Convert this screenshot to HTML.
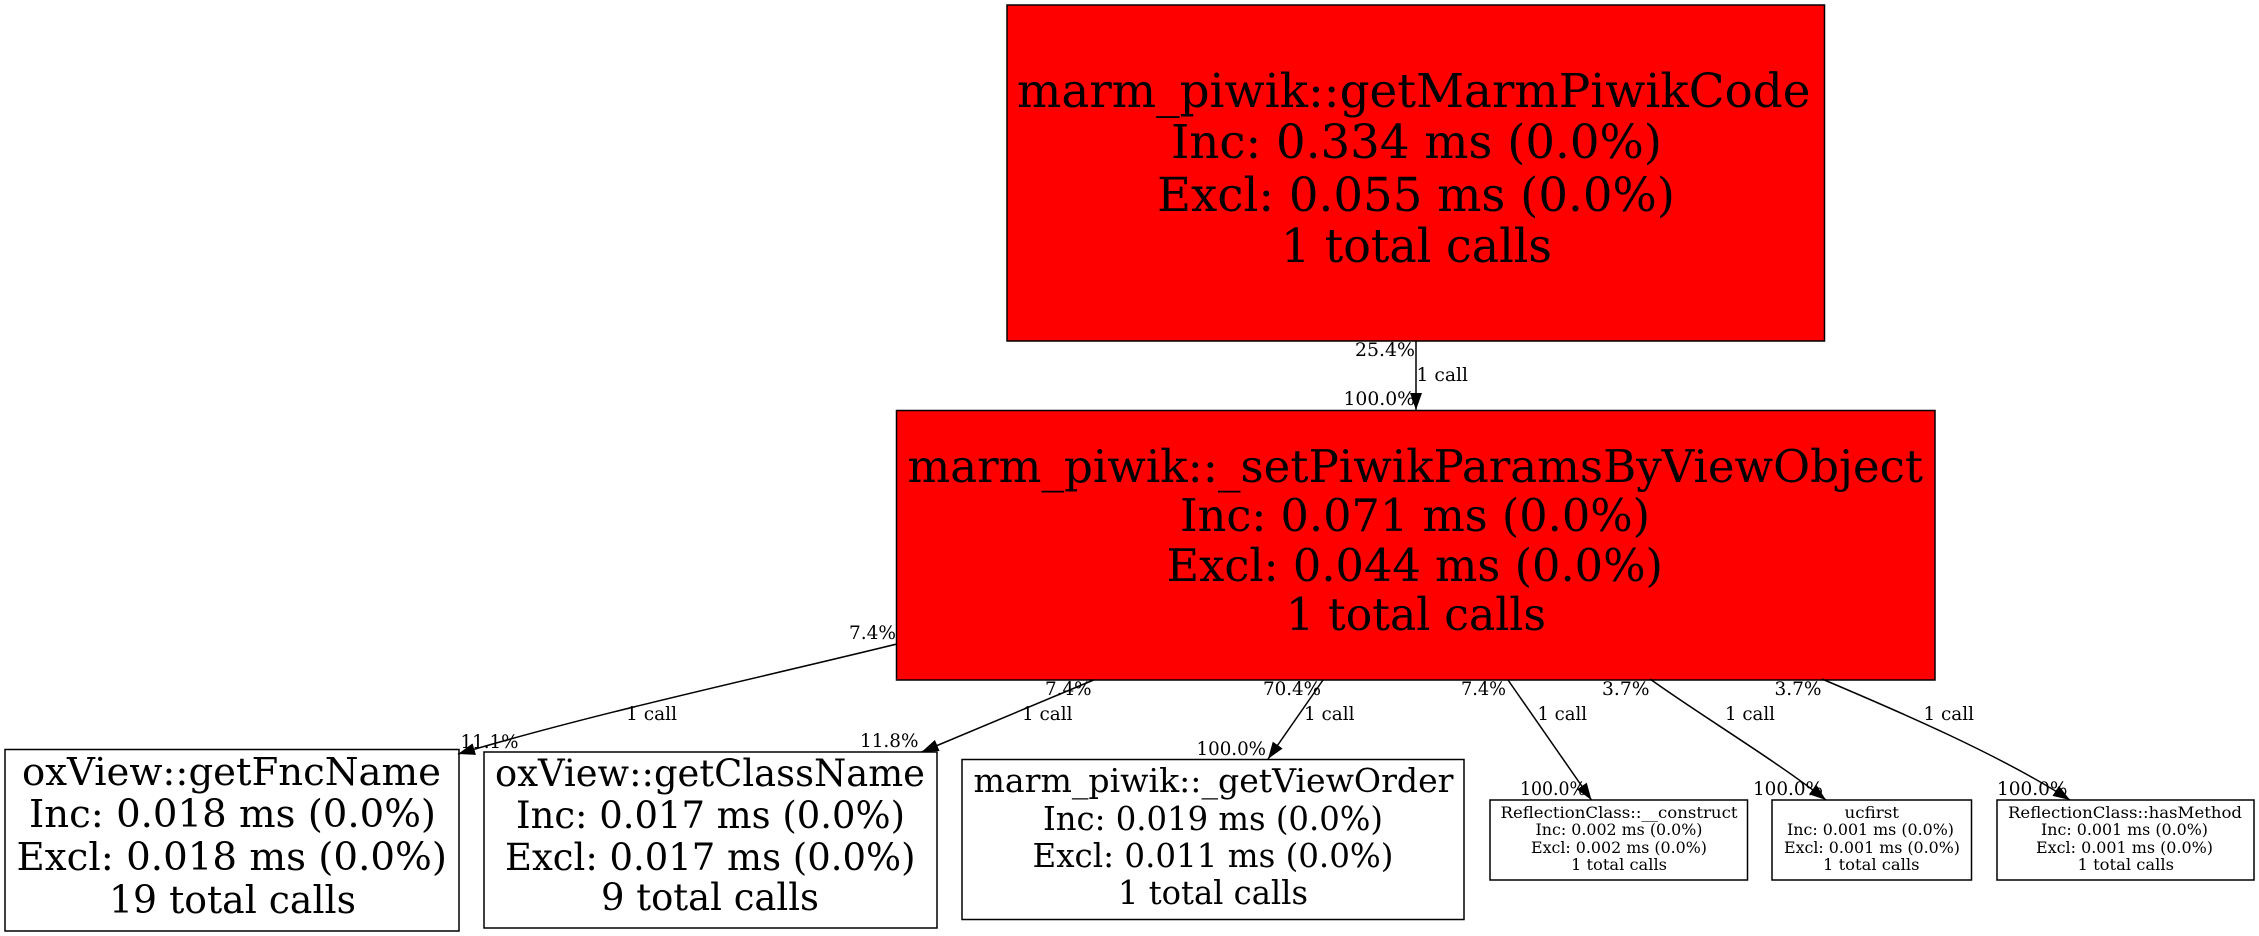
<!DOCTYPE html>
<html>
<head>
<meta charset="utf-8">
<style>
html,body{margin:0;padding:0;background:#fff;width:2259px;height:936px;overflow:hidden}
svg{display:block}
text{font-family:"DejaVu Serif","Liberation Serif",serif;fill:#000}
rect{stroke:#000;stroke-width:1.5}
.e{fill:none;stroke:#000;stroke-width:1.5}
.s1{font-size:46.6px}.s2{font-size:44.6px}.s3{font-size:38.6px}.s4{font-size:37px}.s5{font-size:32.3px}.s6{font-size:15.9px}.l{font-size:18.4px}
</style>
</head>
<body>
<svg xmlns="http://www.w3.org/2000/svg" width="2259" height="936" viewBox="0 0 2259 936">
<defs>
<marker id="a" markerUnits="userSpaceOnUse" markerWidth="18" markerHeight="14" refX="17" refY="7" orient="auto"><path d="M0 1 L17 7 L0 13 Z" fill="#000"/></marker>
</defs>
<rect width="2259" height="936" fill="#fff" style="stroke:none"/>

<rect x="1007" y="5" width="817.5" height="336" fill="#f00"/>
<text class="s1" x="1017" y="107" textLength="793.5" lengthAdjust="spacingAndGlyphs">marm_piwik::getMarmPiwikCode</text>
<text class="s1" x="1171" y="158" textLength="491" lengthAdjust="spacingAndGlyphs">Inc: 0.334 ms (0.0%)</text>
<text class="s1" x="1157" y="211" textLength="518" lengthAdjust="spacingAndGlyphs">Excl: 0.055 ms (0.0%)</text>
<text class="s1" x="1281" y="262" textLength="271" lengthAdjust="spacingAndGlyphs">1 total calls</text>

<rect x="896.5" y="410.5" width="1038.5" height="269.5" fill="#f00"/>
<text class="s2" x="907.5" y="482" textLength="1015.5" lengthAdjust="spacingAndGlyphs">marm_piwik::_setPiwikParamsByViewObject</text>
<text class="s2" x="1180" y="531" textLength="470" lengthAdjust="spacingAndGlyphs">Inc: 0.071 ms (0.0%)</text>
<text class="s2" x="1166.5" y="581" textLength="496.5" lengthAdjust="spacingAndGlyphs">Excl: 0.044 ms (0.0%)</text>
<text class="s2" x="1286" y="630" textLength="260" lengthAdjust="spacingAndGlyphs">1 total calls</text>

<rect x="5" y="749.5" width="454" height="181.5" fill="#fff"/>
<text class="s3" x="22" y="785" textLength="419" lengthAdjust="spacingAndGlyphs">oxView::getFncName</text>
<text class="s3" x="29" y="827" textLength="407" lengthAdjust="spacingAndGlyphs">Inc: 0.018 ms (0.0%)</text>
<text class="s3" x="16.5" y="870" textLength="430.5" lengthAdjust="spacingAndGlyphs">Excl: 0.018 ms (0.0%)</text>
<text class="s3" x="109" y="913" textLength="247" lengthAdjust="spacingAndGlyphs">19 total calls</text>

<rect x="484" y="752" width="453" height="176" fill="#fff"/>
<text class="s4" x="495" y="786" textLength="430" lengthAdjust="spacingAndGlyphs">oxView::getClassName</text>
<text class="s4" x="516" y="828" textLength="389" lengthAdjust="spacingAndGlyphs">Inc: 0.017 ms (0.0%)</text>
<text class="s4" x="505" y="870" textLength="410.5" lengthAdjust="spacingAndGlyphs">Excl: 0.017 ms (0.0%)</text>
<text class="s4" x="601" y="910" textLength="218" lengthAdjust="spacingAndGlyphs">9 total calls</text>

<rect x="962" y="759.5" width="502" height="160" fill="#fff"/>
<text class="s5" x="973.5" y="792" textLength="480" lengthAdjust="spacingAndGlyphs">marm_piwik::_getViewOrder</text>
<text class="s5" x="1043" y="830" textLength="340" lengthAdjust="spacingAndGlyphs">Inc: 0.019 ms (0.0%)</text>
<text class="s5" x="1032.5" y="867" textLength="361" lengthAdjust="spacingAndGlyphs">Excl: 0.011 ms (0.0%)</text>
<text class="s5" x="1118" y="904" textLength="190" lengthAdjust="spacingAndGlyphs">1 total calls</text>

<rect x="1490" y="800" width="257.5" height="80" fill="#fff"/>
<text class="s6" x="1500.5" y="818" textLength="237" lengthAdjust="spacingAndGlyphs">ReflectionClass::__construct</text>
<text class="s6" x="1535.5" y="835" textLength="167" lengthAdjust="spacingAndGlyphs">Inc: 0.002 ms (0.0%)</text>
<text class="s6" x="1531" y="853" textLength="176" lengthAdjust="spacingAndGlyphs">Excl: 0.002 ms (0.0%)</text>
<text class="s6" x="1571" y="870" textLength="96" lengthAdjust="spacingAndGlyphs">1 total calls</text>

<rect x="1772" y="800" width="199.5" height="80" fill="#fff"/>
<text class="s6" x="1844.5" y="818" textLength="54.5" lengthAdjust="spacingAndGlyphs">ucfirst</text>
<text class="s6" x="1787" y="835" textLength="167" lengthAdjust="spacingAndGlyphs">Inc: 0.001 ms (0.0%)</text>
<text class="s6" x="1784" y="853" textLength="176" lengthAdjust="spacingAndGlyphs">Excl: 0.001 ms (0.0%)</text>
<text class="s6" x="1823" y="870" textLength="96.5" lengthAdjust="spacingAndGlyphs">1 total calls</text>

<rect x="1997" y="800" width="257" height="80" fill="#fff"/>
<text class="s6" x="2008" y="818" textLength="234" lengthAdjust="spacingAndGlyphs">ReflectionClass::hasMethod</text>
<text class="s6" x="2041" y="835" textLength="167" lengthAdjust="spacingAndGlyphs">Inc: 0.001 ms (0.0%)</text>
<text class="s6" x="2036" y="853" textLength="177" lengthAdjust="spacingAndGlyphs">Excl: 0.001 ms (0.0%)</text>
<text class="s6" x="2077.5" y="870" textLength="96.5" lengthAdjust="spacingAndGlyphs">1 total calls</text>

<path class="e" d="M1416 341 L1416 410" marker-end="url(#a)"/>
<path class="e" d="M897 644 C750 680 600 712 458 754" marker-end="url(#a)"/>
<path class="e" d="M1093.6 680 L921.6 752" marker-end="url(#a)"/>
<path class="e" d="M1323 680 L1268 759" marker-end="url(#a)"/>
<path class="e" d="M1508 680 L1591.5 800" marker-end="url(#a)"/>
<path class="e" d="M1650 679 C1700 715 1775 760 1826 800" marker-end="url(#a)"/>
<path class="e" d="M1822 679 C1900 712 2000 755 2070 800" marker-end="url(#a)"/>

<text class="l" x="1355" y="356" textLength="60" lengthAdjust="spacingAndGlyphs">25.4%</text>
<text class="l" x="1416.5" y="381" textLength="51.5" lengthAdjust="spacingAndGlyphs">1 call</text>
<text class="l" x="1343.5" y="405" textLength="71.5" lengthAdjust="spacingAndGlyphs">100.0%</text>

<text class="l" x="849" y="639" textLength="47" lengthAdjust="spacingAndGlyphs">7.4%</text>
<text class="l" x="626" y="720" textLength="51" lengthAdjust="spacingAndGlyphs">1 call</text>
<text class="l" x="460.5" y="748" textLength="58" lengthAdjust="spacingAndGlyphs">11.1%</text>

<text class="l" x="1045" y="695" textLength="46.5" lengthAdjust="spacingAndGlyphs">7.4%</text>
<text class="l" x="1022" y="720" textLength="50.5" lengthAdjust="spacingAndGlyphs">1 call</text>
<text class="l" x="860" y="747" textLength="58.5" lengthAdjust="spacingAndGlyphs">11.8%</text>

<text class="l" x="1263" y="695" textLength="58" lengthAdjust="spacingAndGlyphs">70.4%</text>
<text class="l" x="1304" y="720" textLength="50.5" lengthAdjust="spacingAndGlyphs">1 call</text>
<text class="l" x="1196.5" y="755" textLength="69.5" lengthAdjust="spacingAndGlyphs">100.0%</text>

<text class="l" x="1461" y="695" textLength="45" lengthAdjust="spacingAndGlyphs">7.4%</text>
<text class="l" x="1537.5" y="720" textLength="49.5" lengthAdjust="spacingAndGlyphs">1 call</text>
<text class="l" x="1520" y="795" textLength="66" lengthAdjust="spacingAndGlyphs">100.0%</text>

<text class="l" x="1602" y="695" textLength="47.5" lengthAdjust="spacingAndGlyphs">3.7%</text>
<text class="l" x="1725" y="720" textLength="50" lengthAdjust="spacingAndGlyphs">1 call</text>
<text class="l" x="1753" y="795" textLength="70" lengthAdjust="spacingAndGlyphs">100.0%</text>

<text class="l" x="1774.5" y="695" textLength="47" lengthAdjust="spacingAndGlyphs">3.7%</text>
<text class="l" x="1923.5" y="720" textLength="50.5" lengthAdjust="spacingAndGlyphs">1 call</text>
<text class="l" x="1997" y="795" textLength="70.5" lengthAdjust="spacingAndGlyphs">100.0%</text>
</svg>
</body>
</html>
